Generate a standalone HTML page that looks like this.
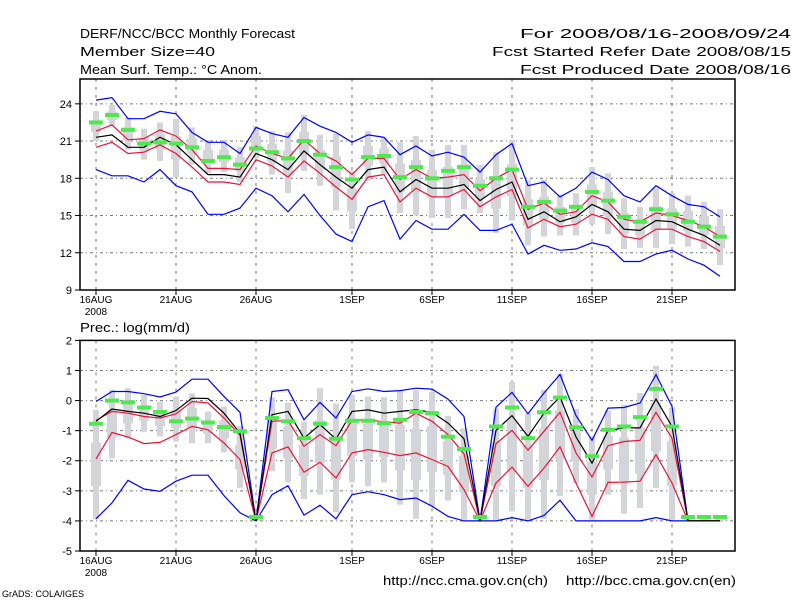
<!DOCTYPE html>
<html><head><meta charset="utf-8"><style>
html,body{margin:0;padding:0;background:#fff;}
svg{display:block;font-family:"Liberation Sans",sans-serif;}
</style></head><body>
<svg id="chart" width="800" height="600" viewBox="0 0 800 600">
<rect width="800" height="600" fill="#fff"/>
<g font-size="13" fill="#000">
<text x="80" y="38" textLength="215" lengthAdjust="spacingAndGlyphs">DERF/NCC/BCC Monthly Forecast</text>
<text x="80" y="56" textLength="135" lengthAdjust="spacingAndGlyphs">Member Size=40</text>
<text x="80" y="74" textLength="182" lengthAdjust="spacingAndGlyphs">Mean Surf. Temp.: °C Anom.</text>
<text x="520" y="38" textLength="271" lengthAdjust="spacingAndGlyphs">For 2008/08/16-2008/09/24</text>
<text x="492" y="56" textLength="299" lengthAdjust="spacingAndGlyphs">Fcst Started Refer Date 2008/08/15</text>
<text x="520" y="74" textLength="271" lengthAdjust="spacingAndGlyphs">Fcst Produced Date 2008/08/16</text>
<text x="80" y="332" textLength="110" lengthAdjust="spacingAndGlyphs">Prec.: log(mm/d)</text>
<text x="383" y="585" textLength="165" lengthAdjust="spacingAndGlyphs">http://ncc.cma.gov.cn(ch)</text>
<text x="566" y="585" textLength="170" lengthAdjust="spacingAndGlyphs">http://bcc.cma.gov.cn(en)</text>
<text x="2" y="597" font-size="9">GrADS: COLA/IGES</text>
</g>
<g id="top"></g>
<g id="bot"></g>
</svg>
<script>
const xTickLabels=["16AUG","21AUG","26AUG","1SEP","6SEP","11SEP","16SEP","21SEP"];
const xTickDaysAll=[0,5,10,16,21,26,31,36];
const topTicks=[9,12,15,18,21,24];
const botTicks=[-5,-4,-3,-2,-1,0,1,2];

const tBlueHi=[24.3,24.5,22.8,22.8,23.4,23.2,21.7,20.9,20.9,20.0,22.1,21.6,21.3,22.9,22.2,21.7,20.9,21.5,21.3,19.9,20.6,19.8,20.1,19.7,18.5,19.9,20.8,17.4,17.7,16.5,17.2,18.5,17.9,16.6,16.1,17.4,16.6,15.9,15.7,14.9];
const tRedHi=[21.8,22.3,21.1,21.2,21.9,21.4,20.3,18.8,18.8,18.7,20.6,20.0,19.6,21.1,20.0,19.4,18.3,19.6,19.6,17.9,18.7,18.0,18.1,18.3,17.0,18.0,18.7,15.5,16.0,15.1,15.3,16.6,16.1,14.7,14.5,15.2,15.0,14.6,14.1,13.3];
const tMean=[21.3,21.5,20.5,20.5,21.3,20.7,19.5,18.3,18.3,18.1,20.0,19.5,18.7,20.2,19.1,18.1,17.2,18.7,18.9,16.9,17.9,17.2,17.2,17.5,16.2,17.1,17.7,14.7,15.3,14.5,14.9,15.9,15.3,13.9,13.8,14.6,14.5,13.9,13.4,12.6];
const tRedLo=[20.5,20.9,20.0,20.1,20.7,20.0,18.9,17.7,17.7,17.5,19.5,19.0,18.1,19.4,18.4,17.3,16.3,18.1,18.3,16.1,17.2,16.5,16.5,17.1,15.7,16.5,17.1,14.0,14.7,14.1,14.3,15.1,14.7,13.3,13.1,13.9,13.9,13.3,12.9,12.1];
const tBlueLo=[18.7,18.2,18.2,17.7,18.7,17.4,16.9,15.1,15.1,15.6,17.2,16.6,15.3,16.7,15.0,13.5,12.9,15.7,16.2,13.1,14.6,13.9,13.9,15.1,13.8,13.8,14.3,11.9,12.6,12.2,12.3,12.8,12.5,11.3,11.3,11.9,12.2,11.5,11.0,10.1];
const tMedian=[22.5,23.1,21.9,20.8,20.9,20.8,20.5,19.4,19.7,19.1,20.4,20.1,19.6,21.0,19.9,18.9,17.9,19.7,19.8,18.1,18.9,18.0,18.6,18.9,17.4,18.0,18.7,15.7,16.1,15.4,15.7,16.9,16.2,14.9,14.5,15.5,15.1,14.5,14.1,13.3];
const tGrayHi=[23.4,23.9,22.9,22.0,22.5,22.8,22.1,21.1,21.1,20.5,22.2,21.8,21.7,23.1,21.5,21.6,18.6,21.8,21.3,20.9,21.4,20.3,20.7,20.7,19.1,20.1,21.1,17.9,17.9,16.7,16.8,18.9,18.4,16.4,15.7,17.2,16.8,16.6,16.1,15.5];
const tGrayLo=[21.0,22.2,20.3,19.5,19.4,18.1,19.1,18.4,18.5,17.7,19.6,18.3,16.8,18.6,17.4,15.4,13.9,17.8,18.3,15.2,15.0,14.8,14.8,15.5,15.2,13.6,14.6,12.6,13.3,13.4,13.4,14.3,13.5,12.3,12.4,12.4,12.7,12.5,12.3,11.0];

const pBlueHi=[-0.03,0.30,0.30,0.23,0.12,0.28,0.71,0.71,0.14,-0.39,-4,0.30,0.36,-0.64,-0.06,-0.58,0.30,0.39,0.30,0.33,0.41,0.38,0.05,-0.53,-4,-0.22,0.27,-0.44,0.25,0.87,-0.50,-1.32,-0.25,-0.23,-0.08,0.86,-0.19,-4,-4,-4];
const pMean=[-0.69,-0.28,-0.36,-0.42,-0.53,-0.33,0.08,0.07,-0.42,-1.08,-4,-0.47,-0.36,-1.25,-0.80,-1.28,-0.36,-0.31,-0.42,-0.36,-0.31,-0.39,-0.75,-1.27,-4,-0.99,-0.50,-1.19,-0.42,0.12,-1.21,-2.08,-1.00,-0.91,-0.91,0.05,-0.86,-4,-4,-4];
const pRedHi=[-0.66,-0.36,-0.42,-0.53,-0.58,-0.44,-0.03,-0.08,-0.58,-1.15,-4,-0.69,-0.66,-1.52,-1.13,-1.50,-0.66,-0.64,-0.71,-0.75,-0.42,-0.69,-1.13,-1.77,-4,-1.43,-0.99,-1.65,-1.02,-0.39,-1.74,-2.54,-1.50,-1.36,-1.32,-0.39,-1.25,-4,-4,-4];
const pRedLo=[-1.94,-1.06,-1.21,-1.43,-1.39,-1.13,-0.86,-0.97,-1.41,-1.96,-4,-1.74,-1.54,-2.38,-2.05,-2.57,-1.74,-1.63,-1.72,-1.83,-1.74,-1.96,-2.19,-2.96,-4,-2.74,-2.21,-2.85,-2.24,-1.54,-2.74,-3.85,-2.72,-2.71,-2.68,-1.80,-2.74,-4,-4,-4];
const pBlueLo=[-3.93,-3.40,-2.65,-2.94,-3.02,-2.68,-2.48,-2.48,-3.16,-3.73,-4,-3.13,-2.83,-3.81,-3.48,-3.93,-3.13,-3.03,-3.13,-3.29,-3.24,-3.51,-3.85,-4,-4,-4,-3.89,-4,-3.82,-3.31,-4,-4,-4,-4,-4,-3.89,-4,-4,-4,-4];
const pMedian=[-0.77,0.0,-0.06,-0.23,-0.38,-0.69,-0.60,-0.73,-0.88,-1.02,-3.87,-0.58,-0.69,-1.25,-0.77,-1.27,-0.67,-0.67,-0.75,-0.64,-0.38,-0.42,-1.20,-1.61,-3.87,-0.86,-0.23,-1.25,-0.39,0.10,-0.89,-1.85,-0.97,-0.86,-0.55,0.39,-0.86,-3.87,-3.87,-3.87];
const pGrayHi=[-0.31,0.36,0.41,0.19,-0.04,0.13,0.24,-0.37,-0.20,-0.85,-3.8,0.11,-0.07,-0.70,0.41,-0.10,0.19,0.13,0.11,0.33,0.34,0.29,-0.51,-0.92,-3.8,-0.27,0.62,-0.42,0.36,0.89,-0.28,-1.21,-0.33,-0.14,0.25,1.16,-0.23,-3.8,-3.8,-3.8];
const pGrayLo=[-3.93,-1.92,-1.26,-1.04,-1.19,-1.36,-1.41,-1.41,-1.72,-2.90,-4,-2.35,-2.72,-3.27,-3.13,-3.71,-2.72,-2.85,-2.72,-3.46,-3.93,-3.51,-3.32,-3.96,-4,-3.96,-3.68,-3.96,-3.93,-3.18,-2.76,-3.96,-3.13,-3.76,-3.57,-2.91,-3.96,-4,-4,-4];

const NS="http://www.w3.org/2000/svg";
function mk(tag,attrs,parent){const e=document.createElementNS(NS,tag);for(const k in attrs)e.setAttribute(k,attrs[k]);parent.appendChild(e);return e;}
const X0=80,X1=735;
function xs(d){return 96+16*d;}

function panel(g,top,bot,vmin,vmax,ticks,series,med,ghi,glo){
  const ys=v=>bot-(v-vmin)/(vmax-vmin)*(bot-top);
  ticks.forEach(t=>{const y=ys(t);if(y>top+1&&y<bot-1){const l=mk('line',{x1:X0,x2:X1,y1:y,y2:y,stroke:'#777','stroke-dasharray':'3,3,1,3','stroke-width':1},g);

}});
  xTickDaysAll.forEach(d=>{const x=xs(d);const l=mk('line',{x1:x,x2:x,y1:top,y2:bot,stroke:'#777','stroke-dasharray':'3,5','stroke-width':1},g);

});
  for(let i=0;i<med.length;i++){
    const x=xs(i),hi=ys(ghi[i]),lo=ys(glo[i]);
    const w=mk('rect',{x:x-3,y:hi,width:6,height:Math.max(2,lo-hi),fill:'#d4d5d9'},g);
    
    
    const q3=ghi[i]-(ghi[i]-glo[i])*0.3,q1=ghi[i]-(ghi[i]-glo[i])*0.7;
    const b=mk('rect',{x:x-5,y:ys(q3),width:10,height:Math.max(2,ys(q1)-ys(q3)),fill:'#d4d5d9'},g);
    
    
  }
  series.forEach(s=>{
    const p=mk('polyline',{points:s.d.map((v,i)=>xs(i)+','+ys(v).toFixed(1)).join(' '),fill:'none',stroke:s.c,'stroke-width':1.2},g);
    
    
  });
  for(let i=0;i<med.length;i++){
    const m=mk('rect',{x:xs(i)-7,y:ys(med[i])-2,width:14,height:4,fill:'#50e850'},g);
    
    
  }
  const f=mk('rect',{x:X0,y:top,width:X1-X0,height:bot-top,fill:'none',stroke:'#000','stroke-width':1.5},g);
  
  
  ticks.forEach(t=>{const y=ys(t);
    const tk=mk('line',{x1:X0-5,x2:X0,y1:y,y2:y,stroke:'#000'},g);
    
    
    const tx=mk('text',{x:X0-8,y:y+4,'text-anchor':'end','font-size':11},g);tx.textContent=t;
    
    });
  xTickDaysAll.forEach((d,k)=>{const x=xs(d);
    const tk=mk('line',{x1:x,x2:x,y1:bot,y2:bot+5,stroke:'#000'},g);
    
    
    const tx=mk('text',{x:x,y:bot+13,'text-anchor':'middle','font-size':10},g);tx.textContent=xTickLabels[k];
    
    });
  const yr=mk('text',{x:96,y:bot+25,'text-anchor':'middle','font-size':10},g);yr.textContent='2008';
  
  
}
panel(document.getElementById('top'),79,290,9,26,topTicks,[
 {d:tBlueHi,c:'#0000ff',n:'blue-upper-line'},{d:tBlueLo,c:'#0000ff',n:'blue-lower-line'},
 {d:tRedHi,c:'#e8143c',n:'red-upper-line'},{d:tRedLo,c:'#e8143c',n:'red-lower-line'},
 {d:tMean,c:'#000',n:'ensemble-mean-line'}],tMedian,tGrayHi,tGrayLo);
panel(document.getElementById('bot'),340.4,551,-5,2,botTicks,[
 {d:pBlueHi,c:'#0000ff',n:'blue-upper-line'},{d:pBlueLo,c:'#0000ff',n:'blue-lower-line'},
 {d:pRedHi,c:'#e8143c',n:'red-upper-line'},{d:pRedLo,c:'#e8143c',n:'red-lower-line'},
 {d:pMean,c:'#000',n:'ensemble-mean-line'}],pMedian,pGrayHi,pGrayLo);
</script>
</body></html>
